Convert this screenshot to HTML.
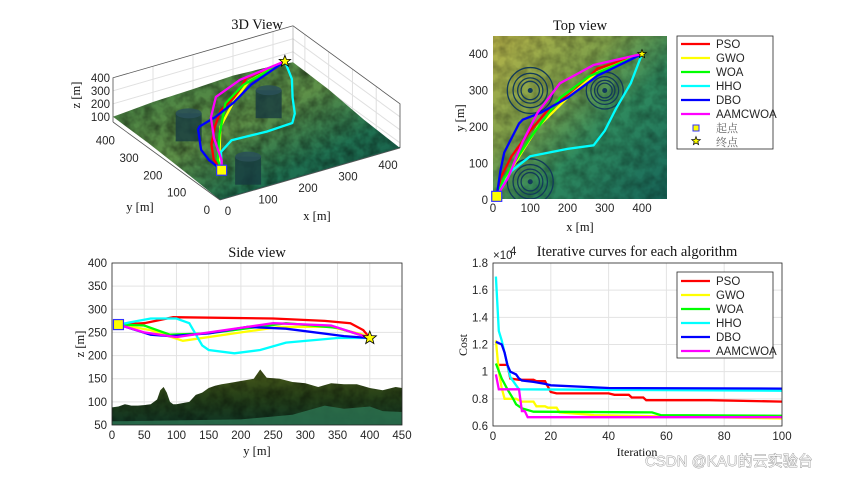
<!DOCTYPE html>
<html><head><meta charset="utf-8"><style>
html,body{margin:0;padding:0;background:#fff;width:865px;height:478px;overflow:hidden}
svg{display:block}
.t{font-family:"Liberation Sans",sans-serif;font-size:11.5px;fill:#262626}
.s{font-family:"Liberation Serif",serif;fill:#111}
</style></head><body>
<svg id="fig" width="865" height="478" viewBox="0 0 865 478">
<defs>
<filter id="noise" x="0" y="0" width="100%" height="100%">
<feTurbulence type="fractalNoise" baseFrequency="0.09" numOctaves="3" seed="4"/>
<feColorMatrix type="matrix" values="0 0 0 0 0  0 0 0 0 0  0 0 0 0 0  0 0 0 -1.6 1.1"/>
<feComposite in2="SourceGraphic" operator="in"/>
</filter>
<linearGradient id="topg" x1="0" y1="0" x2="1" y2="1">
<stop offset="0" stop-color="#b9b54a"/><stop offset="0.35" stop-color="#7fa04a"/><stop offset="0.6" stop-color="#2f8a5e"/><stop offset="1" stop-color="#17665a"/></linearGradient>
<linearGradient id="sideg" x1="0" y1="0" x2="0" y2="1">
<stop offset="0" stop-color="#4a5a1a"/><stop offset="0.5" stop-color="#253f18"/><stop offset="1" stop-color="#0f3424"/></linearGradient>
<linearGradient id="g3d" x1="0" y1="0" x2="1" y2="1">
<stop offset="0" stop-color="#3e7a40"/><stop offset="0.45" stop-color="#5e9048"/><stop offset="0.7" stop-color="#1f7050"/><stop offset="1" stop-color="#0f5048"/></linearGradient>
<clipPath id="clipTop"><rect x="493" y="36" width="174" height="163"/></clipPath>
<clipPath id="clipSide"><rect x="112" y="263" width="290" height="162"/></clipPath>
<clipPath id="clipIt"><rect x="493" y="263" width="289" height="163"/></clipPath>
</defs>
<g id="p3d"></g>
<g id="ptop"></g>
<g id="pside"></g>
<g id="pit"></g>
<text x="645" y="466" style="font-family:'Liberation Sans','Noto Sans CJK SC',sans-serif;font-size:15px;fill:#f4f4f4;stroke:#888;stroke-width:0.7;paint-order:stroke">CSDN @KAU的云实验台</text>
</svg>
<script>
const NS="http://www.w3.org/2000/svg";
const algNames=["PSO","GWO","WOA","HHO","DBO","AAMCWOA"];
const algColors=["#ff0000","#ffff00","#00ff00","#00ffff","#0000ff","#ff00ff"];
const LW=2.3;
// convergence curves: [iteration, cost x1e4]
const itPSO=[[1,1.05],[5,1.05],[6,0.95],[9,0.94],[14,0.94],[15,0.93],[18,0.93],[20,0.85],[22,0.84],[40,0.84],[42,0.83],[47,0.83],[48,0.81],[52,0.81],[53,0.79],[75,0.79],[100,0.78]];
const itGWO=[[1,1.23],[2,1.0],[3,0.88],[4,0.80],[8,0.80],[10,0.78],[14,0.78],[15,0.745],[18,0.745],[19,0.735],[22,0.735],[23,0.70],[35,0.68],[100,0.655]];
const itWOA=[[1,1.06],[3,0.95],[5,0.87],[7,0.80],[8,0.76],[10,0.73],[14,0.705],[55,0.70],[58,0.68],[100,0.675]];
const itHHO=[[1,1.70],[2,1.30],[3,1.23],[5,1.05],[6,0.96],[8,0.90],[9,0.87],[100,0.86]];
const itDBO=[[1,1.22],[3,1.20],[4,1.14],[5,1.05],[6,1.00],[8,0.98],[9,0.95],[10,0.935],[14,0.925],[18,0.91],[20,0.90],[40,0.88],[100,0.875]];
const itAAM=[[1,0.98],[2,0.87],[9,0.87],[10,0.71],[11,0.71],[12,0.665],[100,0.665]];
const itSeries=[itPSO,itGWO,itWOA,itHHO,itDBO,itAAM];
const itXTicks=[0,20,40,60,80,100];
const itYTicks=[0.6,0.8,1,1.2,1.4,1.6,1.8];
// side view: [y, z]
const sdPSO=[[10,267],[50,270],[95,283],[250,280],[330,275],[370,270],[390,255],[400,238]];
const sdGWO=[[10,267],[60,255],[110,232],[200,250],[260,262],[340,262],[390,245],[400,238]];
const sdWOA=[[10,267],[50,265],[90,245],[150,248],[270,270],[350,260],[400,238]];
const sdHHO=[[10,267],[60,280],[100,280],[120,270],[140,222],[150,212],[190,205],[230,212],[270,228],[350,238],[400,238]];
const sdDBO=[[10,267],[60,245],[90,242],[150,248],[210,262],[270,258],[360,242],[400,238]];
const sdAAM=[[10,267],[50,250],[100,240],[160,252],[250,270],[340,265],[400,238]];
const sideSeries=[sdPSO,sdGWO,sdWOA,sdHHO,sdDBO,sdAAM];
const terrainY=[0,10,20,30,40,50,60,70,75,80,85,90,95,100,120,130,140,150,160,170,180,200,220,230,240,260,280,300,320,340,360,380,400,420,440,450];
const terrainZ=[88,90,95,92,92,93,95,105,125,132,120,100,95,95,100,115,120,130,135,138,140,145,150,170,152,150,143,140,132,140,138,138,130,125,132,130];
const sideXTicks=[0,50,100,150,200,250,300,350,400,450];
const sideYTicks=[50,100,150,200,250,300,350,400];
// top view: [x, y]
const tpPSO=[[10,10],[20,60],[50,120],[100,190],[150,250],[220,300],[280,360],[400,400]];
const tpGWO=[[10,10],[40,70],[120,200],[200,280],[280,350],[400,400]];
const tpWOA=[[10,10],[30,60],[100,170],[180,280],[260,340],[400,400]];
const tpHHO=[[10,10],[50,80],[100,120],[200,140],[270,150],[300,190],[330,250],[370,320],[400,400]];
const tpDBO=[[10,10],[20,80],[30,130],[70,210],[80,220],[130,240],[200,280],[280,340],[400,400]];
const tpAAM=[[10,10],[40,60],[80,160],[120,240],[180,320],[270,370],[400,400]];
const topSeries=[tpPSO,tpGWO,tpWOA,tpHHO,tpDBO,tpAAM];
const threatX=[100,300,100];
const threatY=[300,300,50];
const threatR=[62,50,62];
const topTicks=[0,100,200,300,400];
const startPt=[10,10,267];
const endPt=[400,400,238];

function el(tag,attrs,parent,text){const e=document.createElementNS(NS,tag);for(const k in attrs)e.setAttribute(k,attrs[k]);if(text!==undefined)e.textContent=text;parent.appendChild(e);return e;}
function pts(arr,fx,fy){return arr.map(p=>fx(p[0]).toFixed(1)+","+fy(p[1]).toFixed(1)).join(" ");}
function star(cx,cy,r){let s="";for(let i=0;i<10;i++){const a=-Math.PI/2+i*Math.PI/5,rr=i%2?r*0.42:r;s+=(cx+rr*Math.cos(a)).toFixed(1)+","+(cy+rr*Math.sin(a)).toFixed(1)+" ";}return s;}

// ===== Iteration panel =====
(function(){
const g=document.getElementById('pit');
const L=493,R=782,T=263,B=426;
const fx=v=>L+v/100*(R-L), fy=v=>B-(v-0.6)/1.2*(B-T);
const bg=el('rect',{x:L,y:T,width:R-L,height:B-T,fill:'#fff'},g);

itXTicks.forEach(v=>{const l=el('line',{x1:fx(v),x2:fx(v),y1:T,y2:B,stroke:'#e3e3e3','stroke-width':1},g);
const t=el('text',{x:fx(v),y:B+14,'text-anchor':'middle',class:'t'},g,String(v));});
itYTicks.forEach(v=>{const l=el('line',{x1:L,x2:R,y1:fy(v),y2:fy(v),stroke:'#e3e3e3','stroke-width':1},g);
const t=el('text',{x:L-5,y:fy(v)+4,'text-anchor':'end',class:'t'},g,String(v));});
const cg=el('g',{'clip-path':'url(#clipIt)'},g);
itSeries.forEach((s,i)=>{const p=el('polyline',{points:pts(s,fx,fy),fill:'none',stroke:algColors[i],'stroke-width':LW},cg);});
const fr=el('rect',{x:L,y:T,width:R-L,height:B-T,fill:'none',stroke:'#262626','stroke-width':0.8},g);
const ex=el('text',{x:L,y:T-4,class:'t','font-size':'9'},g,"×10");
const ex2=el('text',{x:L+17,y:T-8,class:'t','font-size':'7'},g,"4");
const ti=el('text',{x:637,y:256,'text-anchor':'middle',class:'s','font-size':'14.5'},g,"Iterative curves for each algorithm");
const xl=el('text',{x:637,y:456,'text-anchor':'middle',class:'s','font-size':'12'},g,"Iteration");
const yl=el('text',{x:0,y:0,'text-anchor':'middle',class:'s','font-size':'12',transform:'translate(467,345) rotate(-90)'},g,"Cost");
const lg=el('g',{},g);
el('rect',{x:677,y:272,width:96,height:86,fill:'#fff',stroke:'#262626','stroke-width':0.8},lg);
algNames.forEach((n,i)=>{const y=281+i*14;const e=el('g',{},lg);
el('line',{x1:681,x2:710,y1:y,y2:y,stroke:algColors[i],'stroke-width':LW},e);el('text',{x:716,y:y+4,class:'t','font-size':'11'},e,n);});
})();

// ===== Side view =====
(function(){
const g=document.getElementById('pside');
const L=112,R=402,T=263,B=425;
const fx=v=>L+v/450*(R-L), fy=v=>B-(v-50)/350*(B-T);
el('rect',{x:L,y:T,width:R-L,height:B-T,fill:'#fff'},g);
sideXTicks.forEach(v=>{const l=el('line',{x1:fx(v),x2:fx(v),y1:T,y2:B,stroke:'#e3e3e3'},g);
const t=el('text',{x:fx(v),y:B+14,'text-anchor':'middle',class:'t'},g,String(v));});
sideYTicks.forEach(v=>{const l=el('line',{x1:L,x2:R,y1:fy(v),y2:fy(v),stroke:'#e3e3e3'},g);
const t=el('text',{x:L-5,y:fy(v)+4,'text-anchor':'end',class:'t'},g,String(v));});
const cg=el('g',{'clip-path':'url(#clipSide)'},g);
const tp=terrainY.map((y,i)=>[y,terrainZ[i]]);
const poly=pts(tp,fx,fy)+" "+fx(450)+","+B+" "+fx(0)+","+B;
const tr=el('polygon',{points:poly,fill:'url(#sideg)'},cg);
el('polygon',{points:poly,fill:'#1a2a08',filter:'url(#noise)',opacity:0.45},cg);
const band=[[0,58],[100,60],[200,62],[280,72],[330,92],[360,85],[400,90],[420,80],[450,78]];
el('polygon',{points:pts(band,fx,fy)+" "+fx(450)+","+B+" "+fx(0)+","+B,fill:'#2f7a55',opacity:0.75},cg);
sideSeries.forEach((s,i)=>{const p=el('polyline',{points:pts(s,fx,fy),fill:'none',stroke:algColors[i],'stroke-width':LW},cg);});
const sm=el('rect',{x:fx(startPt[0])-5,y:fy(startPt[2])-5,width:10,height:10,fill:'#ffff00',stroke:'#3333ff','stroke-width':1.2},g);
const em=el('polygon',{points:star(fx(endPt[1]),fy(endPt[2]),7),fill:'#ffff00',stroke:'#000','stroke-width':0.8},g);
el('rect',{x:L,y:T,width:R-L,height:B-T,fill:'none',stroke:'#262626','stroke-width':0.8},g);
const ti=el('text',{x:257,y:257,'text-anchor':'middle',class:'s','font-size':'14.5'},g,"Side view");
const xl=el('text',{x:257,y:455,'text-anchor':'middle',class:'s','font-size':'12.5'},g,"y [m]");
const yl=el('text',{x:0,y:0,'text-anchor':'middle',class:'s','font-size':'12.5',transform:'translate(84,344) rotate(-90)'},g,"z [m]");
})();

// ===== Top view =====
(function(){
const g=document.getElementById('ptop');
const L=493,R=667,T=36,B=199;
const fx=v=>L+v*0.3725, fy=v=>200-v*0.365;
const cg=el('g',{'clip-path':'url(#clipTop)'},g);
const bg=el('rect',{x:L,y:T,width:R-L,height:B-T,fill:'url(#topg)'},cg);
el('rect',{x:L,y:T,width:R-L,height:B-T,fill:'#1e3a12',filter:'url(#noise)',opacity:0.35},cg);
threatX.forEach((cx,i)=>{const th=el('g',{},cg);
[1,0.75,0.55,0.4].forEach(f=>el('circle',{cx:fx(cx),cy:fy(threatY[i]),r:threatR[i]*f*0.37,fill:'none',stroke:'#123a5a','stroke-width':1.3},th));
el('circle',{cx:fx(cx),cy:fy(threatY[i]),r:2.5,fill:'#123a5a'},th);});
topSeries.forEach((s,i)=>{const p=el('polyline',{points:pts(s,fx,fy),fill:'none',stroke:algColors[i],'stroke-width':LW,'stroke-linejoin':'round'},cg);});
const sm=el('rect',{x:fx(startPt[0])-5,y:fy(startPt[1])-5,width:10,height:10,fill:'#ffff00',stroke:'#3333ff','stroke-width':1.2},g);
const em=el('polygon',{points:star(fx(endPt[0]),fy(endPt[1]),4.5),fill:'#ffff00',stroke:'#000','stroke-width':0.7},g);
topTicks.forEach(v=>{const t=el('text',{x:fx(v),y:212,'text-anchor':'middle',class:'t'},g,String(v));
const u=el('text',{x:L-5,y:fy(v)+4,'text-anchor':'end',class:'t'},g,String(v));});
const ti=el('text',{x:580,y:30,'text-anchor':'middle',class:'s','font-size':'14.5'},g,"Top view");
const xl=el('text',{x:580,y:231,'text-anchor':'middle',class:'s','font-size':'12.5'},g,"x [m]");
const yl=el('text',{x:0,y:0,'text-anchor':'middle',class:'s','font-size':'12.5',transform:'translate(464,118) rotate(-90)'},g,"y [m]");
const lg=el('g',{},g);
el('rect',{x:677,y:36,width:96,height:113,fill:'#fff',stroke:'#262626','stroke-width':0.8},lg);
algNames.forEach((n,i)=>{const y=44+i*14;const e=el('g',{},lg);
el('line',{x1:681,x2:710,y1:y,y2:y,stroke:algColors[i],'stroke-width':LW},e);el('text',{x:716,y:y+4,class:'t','font-size':'11'},e,n);});
const e1=el('g',{},lg);
el('rect',{x:693,y:125,width:6,height:6,fill:'#ffff00',stroke:'#3333ff'},e1);
el('text',{x:716,y:132,style:"font-family:'Liberation Serif','Noto Serif CJK SC',serif;font-size:11px;fill:#666"},e1,"起点");
const e2=el('g',{},lg);
el('polygon',{points:star(696,141,4.5),fill:'#ffff00',stroke:'#000','stroke-width':0.7},e2);
el('text',{x:716,y:146,style:"font-family:'Liberation Serif','Noto Serif CJK SC',serif;font-size:11px;fill:#666"},e2,"终点");
})();

// ===== 3D view =====
(function(){
const g=document.getElementById('p3d');
const O=[220,200], XV=[(400-220)/450,(148-200)/450], YV=[(113-220)/450,(122-200)/450], ZS=0.13;
const P=(x,y,z)=>[O[0]+x*XV[0]+y*YV[0], O[1]+x*XV[1]+y*YV[1]-(z-60)*ZS];
const s=p=>p[0].toFixed(1)+","+p[1].toFixed(1);
const back=P(450,450,60), backTop=P(450,450,400), lt=P(0,450,400), lb=P(0,450,60), rt=P(450,0,400), rb=P(450,0,60);
const box=el('g',{},g);
[0,100,200,300,400].forEach(v=>{el('line',{x1:P(v,450,60)[0],y1:P(v,450,60)[1],x2:P(v,450,400)[0],y2:P(v,450,400)[1],stroke:'#e0e0e0'},box);
el('line',{x1:P(450,v,60)[0],y1:P(450,v,60)[1],x2:P(450,v,400)[0],y2:P(450,v,400)[1],stroke:'#e0e0e0'},box);});
[100,200,300].forEach(z=>{el('polyline',{points:s(P(0,450,z))+" "+s(P(450,450,z))+" "+s(P(450,0,z)),fill:'none',stroke:'#e0e0e0'},box);});
el('polyline',{points:s(lb)+" "+s(lt)+" "+s(backTop)+" "+s(rt)+" "+s(rb),fill:'none',stroke:'#555','stroke-width':0.8},box);
el('line',{x1:back[0],y1:back[1],x2:backTop[0],y2:backTop[1],stroke:'#999','stroke-width':0.6},box);
const f0=P(0,0,60),f1=P(450,0,60),f2=P(450,450,60),f3=P(0,450,60);
const ridge=[P(0,450,100),P(100,450,125),P(200,450,135),P(300,450,150),P(400,450,135),P(450,450,120),P(450,300,110),P(450,150,75),P(450,0,60)];
const terPts=[s(f0),s(P(0,150,80)),s(P(0,300,95))].concat(ridge.map(s)).join(" ");
const ter=el('polygon',{points:terPts,fill:'url(#g3d)'},g);

el('polygon',{points:terPts,fill:'#0e2a10',filter:'url(#noise)',opacity:0.5},g);
el('polygon',{points:[s(f0),s(f1),s(P(450,0,70)),s(P(0,0,70))].join(" "),fill:'#1d5a48'},g);
threatX.forEach((cx,i)=>{const c=P(cx,threatY[i],130);const cy=el('g',{},g);
el('rect',{x:c[0]-13,y:c[1]-14,width:26,height:28,fill:'#173a40',opacity:0.8},cy);
el('ellipse',{cx:c[0],cy:c[1]-14,rx:13,ry:5,fill:'#2a5058',opacity:0.85},cy);});
function zAt(side,y){for(let k=1;k<side.length;k++){if(y<=side[k][0]){const a=side[k-1],b=side[k];const t=(y-a[0])/((b[0]-a[0])||1);return a[1]+t*(b[1]-a[1]);}}return side[side.length-1][1];}
topSeries.forEach((tp,i)=>{const d=tp.map(p=>s(P(p[0],p[1],zAt(sideSeries[i],p[1])))).join(" ");
const pl=el('polyline',{points:d,fill:'none',stroke:algColors[i],'stroke-width':LW,'stroke-linejoin':'round'},g);});
const sp=P(startPt[0],startPt[1],startPt[2]);
const sm=el('rect',{x:sp[0]-5,y:sp[1]-5,width:10,height:10,fill:'#ffff00',stroke:'#3333ff','stroke-width':1.2},g);
const ep=P(endPt[0],endPt[1],endPt[2]);
const em=el('polygon',{points:star(ep[0],ep[1],6),fill:'#ffff00',stroke:'#000','stroke-width':0.8},g);
el('line',{x1:f0[0],y1:f0[1],x2:f3[0],y2:f3[1],stroke:'#555','stroke-width':0.8},g);
el('line',{x1:f0[0],y1:f0[1],x2:f1[0],y2:f1[1],stroke:'#555','stroke-width':0.8},g);
[0,100,200,300,400].forEach(v=>{const a=P(v,0,60);const t=el('text',{x:a[0]+8,y:a[1]+15,'text-anchor':'middle',class:'t'},g,String(v));
const b=P(0,v,60);const u=el('text',{x:b[0]-10,y:b[1]+14,'text-anchor':'end',class:'t'},g,String(v));});
[100,200,300,400].forEach(v=>{const a=P(0,450,v);const t=el('text',{x:a[0]-3,y:a[1]+4,'text-anchor':'end',class:'t'},g,String(v));});
const ti=el('text',{x:257,y:29,'text-anchor':'middle',class:'s','font-size':'14.5'},g,"3D View");
const xl=el('text',{x:317,y:220,'text-anchor':'middle',class:'s','font-size':'12.5'},g,"x [m]");
const yl=el('text',{x:140,y:211,'text-anchor':'middle',class:'s','font-size':'12.5'},g,"y [m]");
const zl=el('text',{x:0,y:0,'text-anchor':'middle',class:'s','font-size':'12.5',transform:'translate(80,95) rotate(-90)'},g,"z [m]");
})();
</script>
</body></html>
